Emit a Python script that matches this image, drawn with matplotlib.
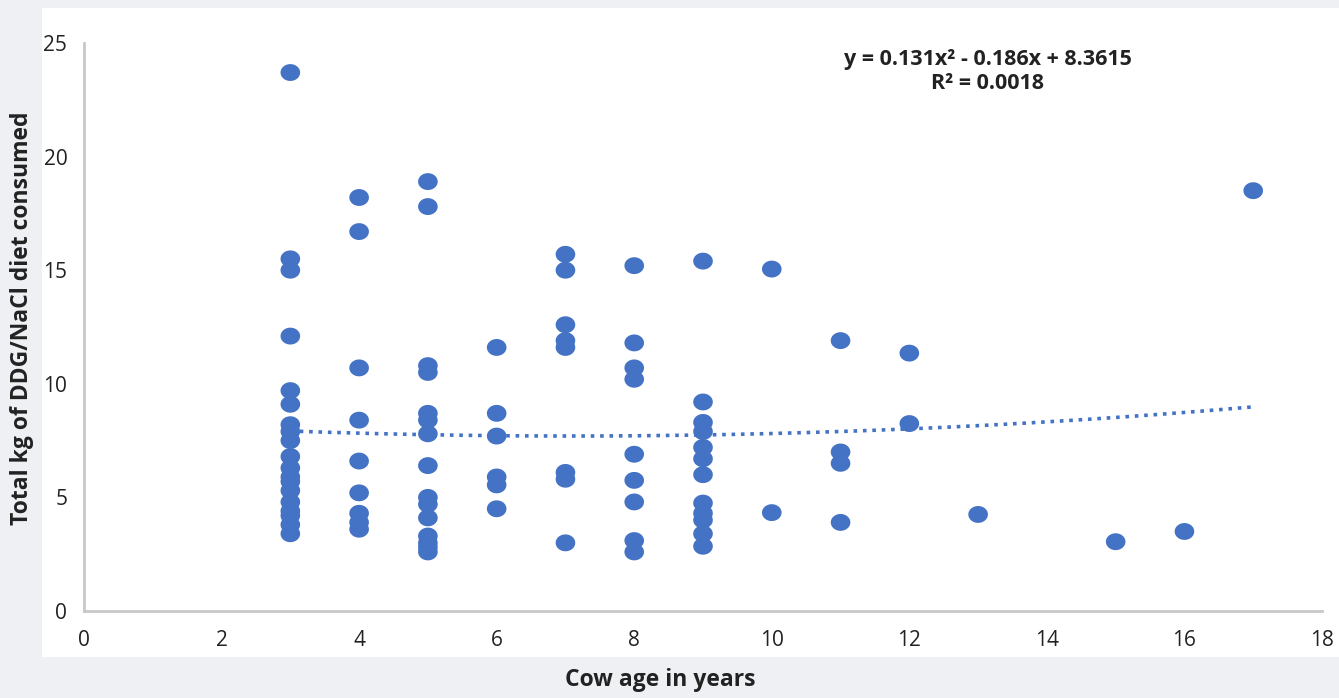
import numpy as np
import matplotlib
matplotlib.use("Agg")
import matplotlib.pyplot as plt
from matplotlib.patches import Rectangle
from matplotlib.path import Path

# Cow age (years) and total kg of DDG/NaCl diet consumed
age = [3] * 19 + [4] * 9 + [5] * 15 + [6] * 6 + [7] * 8 + [8] * 9 + [9] * 12 \
    + [10] * 2 + [11] * 4 + [12] * 2 + [13, 15, 16, 17]
kg = [23.7, 15.5, 15.0, 12.1, 9.7, 9.1, 8.2, 7.9, 7.5, 6.8, 6.3, 5.9, 5.7, 5.3, 4.8, 4.4, 4.2, 3.8, 3.4,   # 3
      18.2, 16.7, 10.7, 8.4, 6.6, 5.2, 4.3, 3.9, 3.6,                                                  # 4
      18.9, 17.8, 10.8, 10.5, 8.7, 8.4, 7.8, 6.4, 5.0, 4.7, 4.1, 3.3, 3.0, 2.8, 2.6,                   # 5
      11.6, 8.7, 7.7, 5.9, 5.55, 4.5,                                                                  # 6
      15.7, 15.0, 12.6, 11.9, 11.6, 6.1, 5.8, 3.0,                                                     # 7
      15.2, 11.8, 10.7, 10.2, 6.9, 5.75, 4.8, 3.1, 2.6,                                                # 8
      15.4, 9.2, 8.3, 7.9, 7.2, 6.7, 6.0, 4.75, 4.3, 4.0, 3.4, 2.85,                                   # 9
      15.05, 4.33,                                                                                     # 10
      11.9, 7.0, 6.5, 3.9,                                                                             # 11
      11.35, 8.25,                                                                                     # 12
      4.25, 3.05, 3.5, 18.5]                                                                           # 13, 15, 16, 17

# trendline as drawn (the printed label has 0.131, the plotted curve matches 0.0131)
trend_coef = [0.0131, -0.186, 8.3615]

x_ticks = [0, 2, 4, 6, 8, 10, 12, 14, 16, 18]
y_ticks = [0, 5, 10, 15, 20, 25]
equation = "y = 0.131x² - 0.186x + 8.3615"
r_squared = "R² = 0.0018"

plt.rcParams['font.family'] = ['Open Sans', 'DejaVu Sans']

blue = '#4472C4'
fig = plt.figure(figsize=(13.39, 6.98), dpi=100, facecolor='#eef0f3')
# white chart panel
fig.patches.append(Rectangle((42 / 1339, 1 - 657 / 698), 1, (657 - 8) / 698,
                             transform=fig.transFigure, facecolor='white',
                             edgecolor='none', zorder=0))

ax = fig.add_axes([84 / 1339, 1 - 611 / 698, (1322 - 84) / 1339, (611 - 43) / 698])
ax.set_zorder(2)
ax.set_facecolor('none')

# slightly flattened dot, like the original markers
t = np.linspace(0, 2 * np.pi, 40)
ellipse = Path(np.column_stack([np.cos(t), 0.86 * np.sin(t)]))
ax.scatter(age, kg, s=200, marker=ellipse, color=blue, edgecolors='none', zorder=3)

xs = np.linspace(min(age), max(age), 200)
ax.plot(xs, np.polyval(trend_coef, xs), linestyle=(0, (1, 1.6)), color=blue, lw=2.6, zorder=2)

ax.set_xlim(0, 18)
ax.set_ylim(0, 25)
ax.set_xticks(x_ticks)
ax.set_yticks(y_ticks)
ax.tick_params(length=0, labelsize=15, colors='#222222')
ax.tick_params(axis='x', pad=14)
ax.tick_params(axis='y', pad=12)
for s in ['top', 'right']:
    ax.spines[s].set_visible(False)
for s in ['left', 'bottom']:
    ax.spines[s].set_color('#c8c8c8')
    ax.spines[s].set_linewidth(2)

ax.text(0.73, 0.99, equation + "\n" + r_squared, transform=ax.transAxes,
        ha='center', va='top', fontsize=15.5, fontweight='bold', color='#222222',
        linespacing=1.2)

fig.text(660 / 1339, 1 - 680 / 698, "Cow age in years", ha='center', va='center',
         fontsize=16.5, fontweight='bold', color='#222222')
fig.text(22 / 1339, 1 - 318 / 698, "Total kg of DDG/NaCl diet consumed", ha='center',
         va='center', rotation=90, fontsize=16.5, fontweight='bold', color='#222222')

fig.savefig("out.png", dpi=100, facecolor=fig.get_facecolor())
